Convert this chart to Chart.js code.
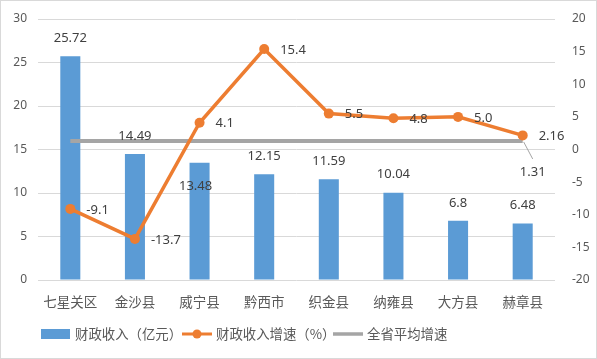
<!DOCTYPE html>
<html>
<head>
<meta charset="utf-8">
<script src="https://cdn.jsdelivr.net/npm/chart.js@4.4.1/dist/chart.umd.min.js"></script>
<style>
  html, body { margin: 0; padding: 0; background: #fff; }
  #wrap { width: 597px; height: 359px; }
</style>
</head>
<body>
<div id="wrap"><canvas id="c" width="597" height="359"></canvas></div>
<script>
// ── Data ─────────────────────────────────────────────────
const categories   = ['七星关区', '金沙县', '威宁县', '黔西市', '织金县', '纳雍县', '大方县', '赫章县'];
const revenue      = [25.72, 14.49, 13.48, 12.15, 11.59, 10.04, 6.8, 6.48];
const growth       = [-9.1, -13.7, 4.1, 15.4, 5.5, 4.8, 5.0, 2.16];
const growthLabels = ['-9.1', '-13.7', '4.1', '15.4', '5.5', '4.8', '5.0', '2.16'];
const provinceAvg  = [1.31, 1.31, 1.31, 1.31, 1.31, 1.31, 1.31, 1.31];
const legendNames  = ['财政收入（亿元）', '财政收入增速（%）', '全省平均增速'];

const BLUE = '#5B9BD5', ORANGE = '#ED7D31', GRAY = '#A5A5A5';
const TXT = '#595959', LBL = '#404040';
const NUM_FONT = '"Noto Sans", "Liberation Sans", sans-serif';
const CJK_FONT = '"Noto Sans CJK SC", "Noto Sans", sans-serif';

// ── Background + border ──────────────────────────────────
const framePlugin = {
  id: 'frame',
  beforeDraw(chart) {
    const ctx = chart.ctx;
    ctx.save();
    ctx.fillStyle = '#fff';
    ctx.fillRect(0, 0, chart.width, chart.height);
    ctx.strokeStyle = '#d9d9d9';
    ctx.lineWidth = 1;
    ctx.strokeRect(0.5, 0.5, chart.width - 1, chart.height - 1);
    ctx.restore();
  }
};

// ── Data labels ──────────────────────────────────────────
const labelPlugin = {
  id: 'labels',
  afterDatasetsDraw(chart) {
    const ctx = chart.ctx;
    ctx.save();
    ctx.font = '13px ' + NUM_FONT;
    ctx.fillStyle = LBL;
    ctx.textBaseline = 'middle';

    // bars: above the top (威宁县 sits inside the bar)
    ctx.textAlign = 'center';
    chart.getDatasetMeta(2).data.forEach((el, i) => {
      let x = el.x, y = el.y - 18;
      if (i === 2) { x -= 4; y = el.y + 24; }
      ctx.fillText(String(revenue[i]), x, y);
    });

    // growth line: to the right of each point
    ctx.textAlign = 'left';
    chart.getDatasetMeta(0).data.forEach((el, i) => {
      ctx.fillText(growthLabels[i], el.x + 16, el.y + 1);
    });

    // province average: only the last point, with leader line
    const avg = chart.getDatasetMeta(1).data;
    const last = avg[avg.length - 1];
    ctx.strokeStyle = GRAY;
    ctx.lineWidth = 1;
    ctx.beginPath();
    ctx.moveTo(last.x + 1, last.y + 1);
    ctx.lineTo(last.x + 10, last.y + 18);
    ctx.stroke();
    ctx.textAlign = 'center';
    ctx.fillText(String(provinceAvg[provinceAvg.length - 1]), last.x + 10, last.y + 31);
    ctx.restore();
  }
};

// ── Legend ───────────────────────────────────────────────
const legendPlugin = {
  id: 'bottomLegend',
  afterDraw(chart) {
    const ctx = chart.ctx;
    const y = 334;
    ctx.save();
    ctx.font = '13.4px ' + CJK_FONT;
    ctx.fillStyle = TXT;
    ctx.textBaseline = 'middle';
    ctx.textAlign = 'left';

    ctx.fillStyle = BLUE;
    ctx.fillRect(41, y - 5, 29, 10);
    ctx.fillStyle = TXT;
    ctx.fillText(legendNames[0], 75, y);

    ctx.strokeStyle = ORANGE;
    ctx.lineWidth = 3;
    ctx.beginPath(); ctx.moveTo(182, y); ctx.lineTo(212, y); ctx.stroke();
    ctx.fillStyle = ORANGE;
    ctx.beginPath(); ctx.arc(197, y, 4.5, 0, Math.PI * 2); ctx.fill();
    ctx.fillStyle = TXT;
    ctx.fillText(legendNames[1], 216, y);

    ctx.strokeStyle = GRAY;
    ctx.lineWidth = 3.5;
    ctx.beginPath(); ctx.moveTo(333, y); ctx.lineTo(363, y); ctx.stroke();
    ctx.fillText(legendNames[2], 367, y);
    ctx.restore();
  }
};

new Chart(document.getElementById('c'), {
  type: 'bar',
  data: {
    labels: categories,
    datasets: [
      {
        type: 'line',
        label: legendNames[1],
        data: growth,
        yAxisID: 'y1',
        borderColor: ORANGE,
        backgroundColor: ORANGE,
        borderWidth: 3.5,
        pointRadius: 5,
        pointBackgroundColor: ORANGE,
        pointBorderWidth: 0,
        tension: 0,
        order: 0,
      },
      {
        type: 'line',
        label: legendNames[2],
        data: provinceAvg,
        yAxisID: 'y1',
        borderColor: GRAY,
        borderWidth: 4,
        pointRadius: 0,
        tension: 0,
        order: 1,
      },
      {
        type: 'bar',
        label: legendNames[0],
        data: revenue,
        yAxisID: 'y',
        backgroundColor: BLUE,
        categoryPercentage: 1,
        barPercentage: 0.31,
        order: 2,
      },
    ]
  },
  options: {
    responsive: false,
    animation: false,
    layout: { padding: { top: 19, left: 0, right: 0, bottom: 0 } },
    plugins: {
      legend: { display: false },
      tooltip: { enabled: false },
    },
    scales: {
      x: {
        grid: { display: false },
        border: { display: false },
        ticks: {
          color: TXT,
          font: { size: 13.5, family: CJK_FONT },
          padding: 6,
          maxRotation: 0,
          autoSkip: false,
        },
        afterFit: s => { s.height = 79; },
      },
      y: {
        position: 'left',
        min: 0, max: 30,
        grid: { color: '#d9d9d9', drawTicks: false },
        border: { display: false },
        ticks: {
          stepSize: 5,
          color: TXT,
          font: { size: 12, family: NUM_FONT },
          padding: 11,
        },
        afterFit: s => { s.width = 38; },
      },
      y1: {
        position: 'right',
        min: -20, max: 20,
        grid: { display: false },
        border: { display: false },
        ticks: {
          stepSize: 5,
          color: TXT,
          font: { size: 12, family: NUM_FONT },
          padding: 9,
        },
        afterFit: s => { s.width = 42; },
      },
    }
  },
  plugins: [framePlugin, labelPlugin, legendPlugin]
});
</script>
</body>
</html>
